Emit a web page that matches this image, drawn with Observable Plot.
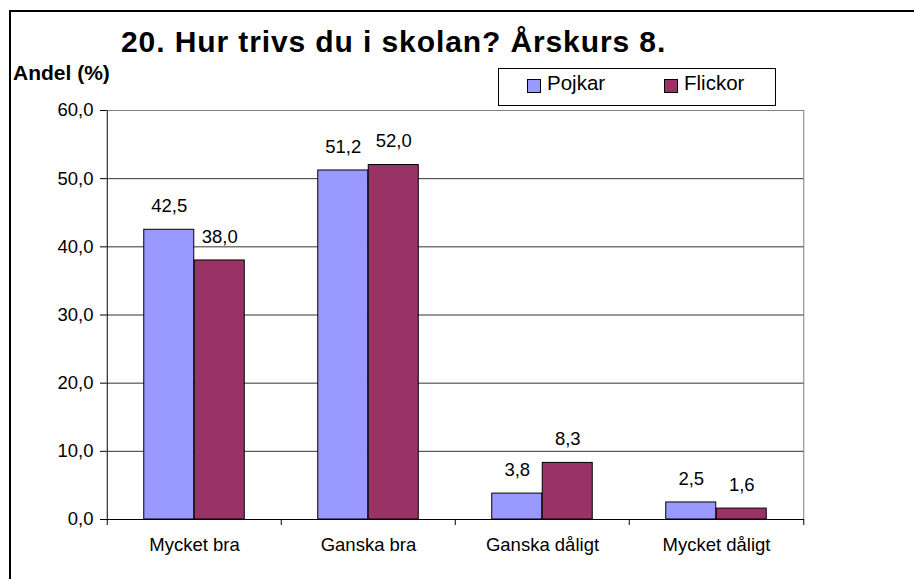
<!DOCTYPE html>
<html>
<head>
<meta charset="utf-8">
<script src="https://cdn.jsdelivr.net/npm/d3@7"></script>
<script src="https://cdn.jsdelivr.net/npm/@observablehq/plot@0.6"></script>
<style>
  html, body { margin: 0; padding: 0; background: #fff; }
  #wrap { position: relative; width: 914px; height: 579px; overflow: hidden; font-family: "Liberation Sans", Arial, sans-serif; color: #000; }
  #wrap svg { position: absolute; left: 0; top: 0; }
  .ov { position: absolute; white-space: nowrap; line-height: 1; }
  #border { position: absolute; left: 9px; top: 10px; width: 1000px; height: 1000px; border-left: 2px solid #000; border-top: 2px solid #000; }
  #title { left: 121px; top: 26.6px; font-size: 30px; font-weight: bold; letter-spacing: 0.9px; }
  #ylabel { left: 13px; top: 62px; font-size: 21px; font-weight: bold; }
  #legend { position: absolute; left: 498px; top: 68px; width: 276px; height: 36px; border: 1px solid #000; background: #fff; }
  .sw { position: absolute; width: 12px; height: 12px; border: 1px solid #000; }
  .lt { position: absolute; font-size: 20.5px; line-height: 1; white-space: nowrap; }
</style>
</head>
<body>
<div id="wrap"></div>
<script>
const categories = ["Mycket bra", "Ganska bra", "Ganska dåligt", "Mycket dåligt"];
const series = ["Pojkar", "Flickor"];
const pojkar = [42.5, 51.2, 3.8, 2.5];
const flickor = [38.0, 52.0, 8.3, 1.6];
const yTicks = [0, 10, 20, 30, 40, 50, 60];
const colors = ["#9999FF", "#993366"];
const titleText = "20. Hur trivs du i skolan? Årskurs 8.";
const yLabelText = "Andel (%)";

const rows = categories.flatMap((c, i) => [
  {category: c, series: series[0], value: pojkar[i]},
  {category: c, series: series[1], value: flickor[i]}
]);

const W = 914, H = 579;
const mL = 106, mR = 110, mT = 110, mB = 60;
const step = (W - mL - mR) / categories.length;
const outerInset = 36.75, innerInset = step / 2;
const half = (step / 2 - outerInset) / 2; // bar center offset
const fmt = v => v.toFixed(1).replace(".", ",");

const chart = Plot.plot({
  width: W,
  height: H,
  marginLeft: mL,
  marginRight: mR,
  marginTop: mT,
  marginBottom: mB,
  style: {fontFamily: "'Liberation Sans', Arial, sans-serif", fontSize: "18.5px", color: "#000", background: "transparent"},
  x: {type: "band", domain: categories, padding: 0},
  y: {domain: [0, 60]},
  marks: [
    // gridlines
    Plot.ruleY(yTicks.filter(t => t > 0 && t < 60), {stroke: "#333", strokeOpacity: 1}),
    // top and right frame
    Plot.ruleY([60], {stroke: "#808080"}),
    Plot.ruleX([categories[categories.length - 1]], {dx: step / 2, stroke: "#808080"}),
    // bars
    Plot.barY(rows.filter(d => d.series === series[0]), {
      x: "category", y: "value", fill: colors[0], stroke: "#000", strokeWidth: 1,
      insetLeft: outerInset, insetRight: innerInset
    }),
    Plot.barY(rows.filter(d => d.series === series[1]), {
      x: "category", y: "value", fill: colors[1], stroke: "#000", strokeWidth: 1,
      insetLeft: innerInset, insetRight: outerInset
    }),
    // value labels
    Plot.text(rows.filter(d => d.series === series[0]), {
      x: "category", y: "value", text: d => fmt(d.value), dx: -half, dy: -23.5, fontSize: 18.5, fill: "#000"
    }),
    Plot.text(rows.filter(d => d.series === series[1]), {
      x: "category", y: "value", text: d => fmt(d.value), dx: half, dy: -23.5, fontSize: 18.5, fill: "#000"
    }),
    // axis lines
    Plot.ruleY([0], {stroke: "#000"}),
    Plot.ruleX([categories[0]], {dx: -step / 2, stroke: "#000"}),
    // category boundary ticks
    Plot.ruleX(categories, {x: d => d, y1: 0, y2: 0, insetBottom: -6, dx: -step / 2, stroke: "#000"}),
    Plot.ruleX([categories[categories.length - 1]], {x: d => d, y1: 0, y2: 0, insetBottom: -6, dx: step / 2, stroke: "#000"}),
    // axes
    Plot.axisY({ticks: yTicks, tickFormat: fmt, tickSize: 6, tickPadding: 7, fontSize: 18.5, label: null, stroke: "#000"}),
    Plot.axisX({tickSize: 0, tickPadding: 18, fontSize: 18.5, label: null})
  ]
});

const wrap = document.getElementById("wrap");
wrap.appendChild(chart);

const border = document.createElement("div");
border.id = "border";
wrap.appendChild(border);

const title = document.createElement("div");
title.className = "ov"; title.id = "title"; title.textContent = titleText;
wrap.appendChild(title);

const ylab = document.createElement("div");
ylab.className = "ov"; ylab.id = "ylabel"; ylab.textContent = yLabelText;
wrap.appendChild(ylab);

const legend = document.createElement("div");
legend.id = "legend";
const legendPos = [{sw: 28, tx: 48}, {sw: 165, tx: 185}];
series.forEach((s, i) => {
  const sw = document.createElement("div");
  sw.className = "sw";
  sw.style.left = legendPos[i].sw + "px";
  sw.style.top = "10px";
  sw.style.background = colors[i];
  legend.appendChild(sw);
  const t = document.createElement("div");
  t.className = "lt";
  t.style.left = legendPos[i].tx + "px";
  t.style.top = "4.3px";
  t.textContent = s;
  legend.appendChild(t);
});
wrap.appendChild(legend);
</script>
</body>
</html>
